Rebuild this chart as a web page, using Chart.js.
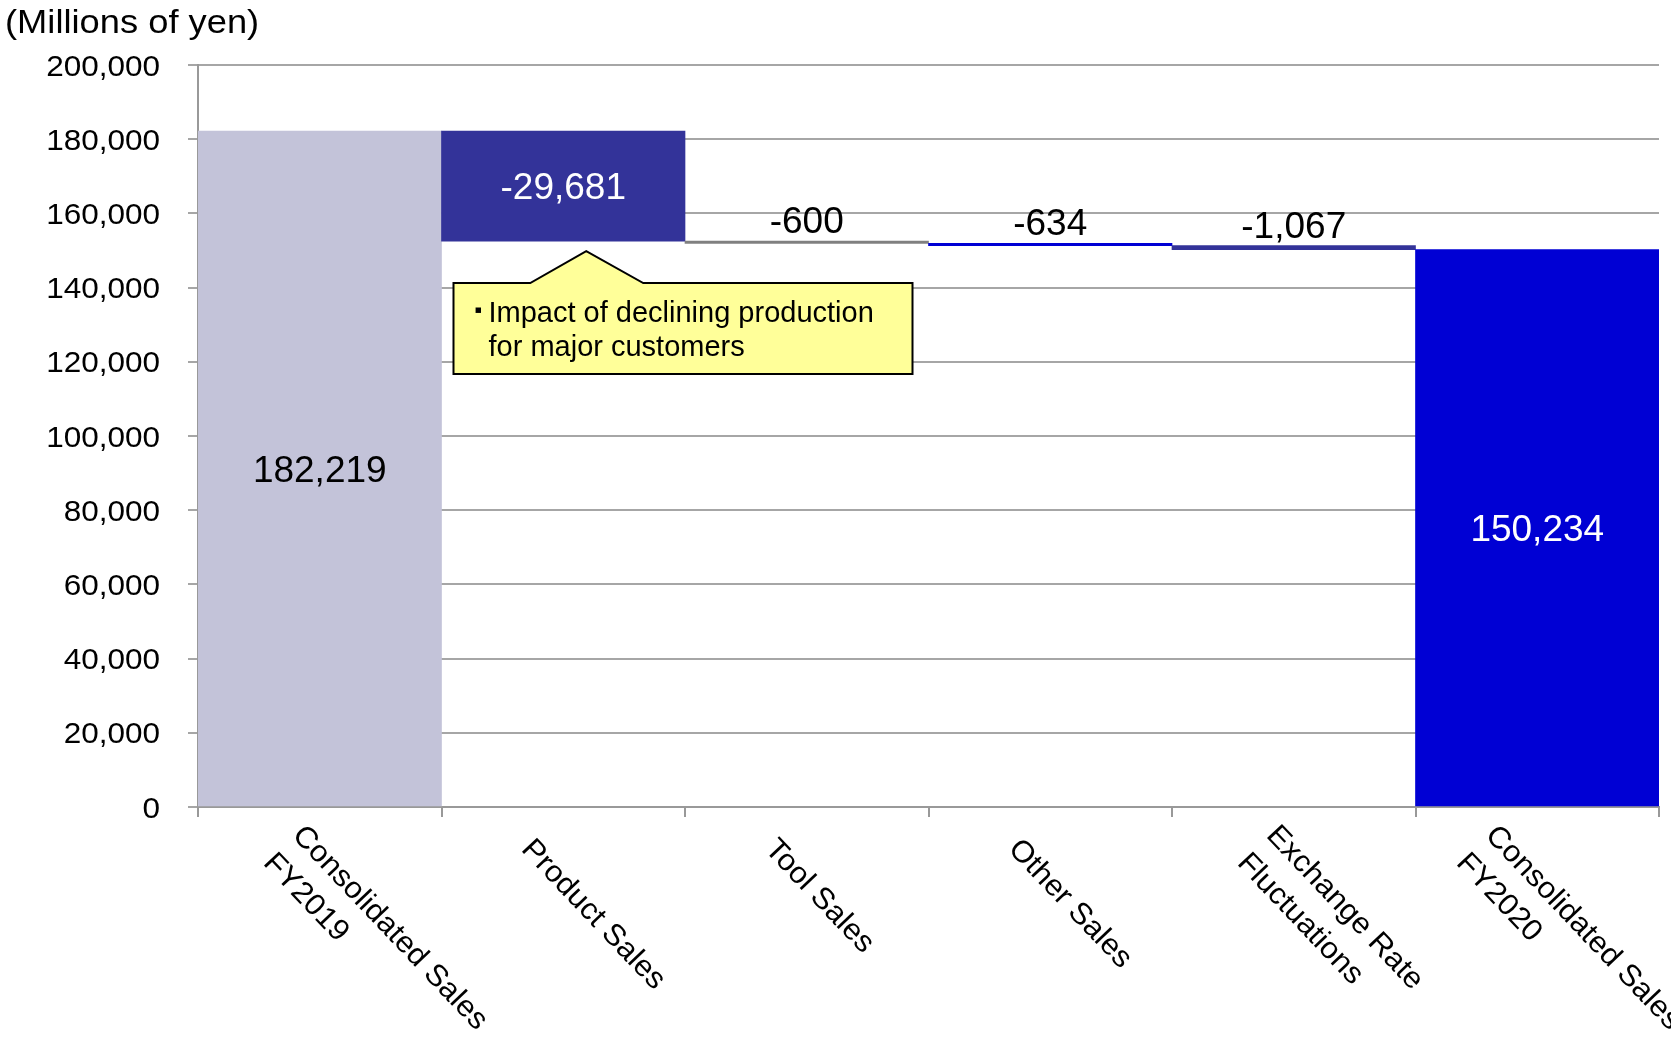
<!DOCTYPE html>
<html>
<head>
<meta charset="utf-8">
<title>Consolidated Sales Bridge</title>
<script src="https://cdn.jsdelivr.net/npm/chart.js@4.4.1/dist/chart.umd.min.js"></script>
<style>
  html, body { margin: 0; padding: 0; background: #ffffff; }
  #wrap { width: 1671px; height: 1038px; position: relative; }
  canvas { display: block; }
</style>
</head>
<body>
<div id="wrap"><canvas id="chart" width="1671" height="1038"></canvas></div>
<script>
// ---- data ----
const categories = [
  ["Consolidated Sales", "FY2019"],
  ["Product Sales"],
  ["Tool Sales"],
  ["Other Sales"],
  ["Exchange Rate", "Fluctuations"],
  ["Consolidated Sales", "FY2020"]
];
const openingSales = 182219;
const salesChanges = [-29681, -600, -634, -1067];
const closingSales = 150234;
const yTickValues = [0, 20000, 40000, 60000, 80000, 100000, 120000, 140000, 160000, 180000, 200000];
const unitLabel = "(Millions of yen)";
const noteLines = ["Impact of declining production", "for major customers"];

// ---- styles ----
const barColors = ["#c3c3d9", "#333399", "#808080", "#0000d4", "#333399", "#0000d4"];
const valueTextColors = ["#000000", "#ffffff", "#000000", "#000000", "#000000", "#ffffff"];
const FONT = '"Liberation Sans", Arial, sans-serif';

// floating ranges for the bridge: each change hangs from the running total
const ranges = [[0, openingSales]];
let runningTotal = openingSales;
salesChanges.forEach(d => {
  ranges.push([runningTotal + d, runningTotal]);
  runningTotal += d;
});
ranges.push([0, closingSales]);
const valueLabels = [openingSales, ...salesChanges, closingSales];

const fmt = v => v.toLocaleString("en-US");

function drawText(ctx, text, x, y, o) {
  ctx.save();
  ctx.translate(x, y);
  if (o.rotate) ctx.rotate(o.rotate);
  ctx.scale(o.sx || 1, 1);
  ctx.font = `${o.size}px ${FONT}`;
  ctx.fillStyle = o.color || "#000000";
  ctx.textAlign = o.align || "left";
  ctx.textBaseline = o.baseline || "alphabetic";
  ctx.fillText(text, 0, 0);
  ctx.restore();
}

const bridgeDecor = {
  id: "bridgeDecor",
  afterDraw(chart) {
    const ctx = chart.ctx;
    const xs = chart.scales.x;
    const ys = chart.scales.y;
    const area = chart.chartArea;
    const bars = chart.getDatasetMeta(0).data;

    // unit caption
    drawText(ctx, unitLabel, 5, 33, { size: 33, sx: 1.1 });

    // value axis labels
    yTickValues.forEach(v => {
      drawText(ctx, fmt(v), 160, ys.getPixelForValue(v) + 10.5, {
        size: 30, sx: 1.05, align: "right"
      });
    });

    // category labels, turned clockwise
    const rad = 46.5 * Math.PI / 180;
    const ux = Math.cos(rad);
    const vx = -Math.sin(rad), vy = Math.cos(rad);
    const catSize = 30, catSx = 1.04, lineH = 40, capH = 0.716 * catSize;
    ctx.save();
    ctx.font = `${catSize}px ${FONT}`;
    categories.forEach((lines, i) => {
      const c = xs.getPixelForValue(i);
      const H = lines.length * lineH;
      const mx = c - 42, my = area.bottom + 42;
      let px = mx - vx * H / 2;
      const py = my - vy * H / 2;
      let right = -Infinity;
      lines.forEach((t, k) => {
        const w = ctx.measureText(t).width * catSx;
        right = Math.max(right, px + vx * k * lineH + ux * w);
      });
      // pull a label back in when it runs well past the right edge
      const overflow = right - (chart.width + 14);
      if (overflow > 0) px -= overflow;
      lines.forEach((t, k) => {
        const bx = px + vx * (k * lineH + capH);
        const by = py + vy * (k * lineH + capH);
        drawText(ctx, t, bx, by, { size: catSize, sx: catSx, rotate: rad });
      });
    });
    ctx.restore();

    // value labels
    const valSize = 37, valCap = 0.716 * valSize;
    bars.forEach((bar, i) => {
      const top = Math.min(bar.y, bar.base);
      const bottom = Math.max(bar.y, bar.base);
      const text = fmt(valueLabels[i]);
      const yBase = (bottom - top > 50)
        ? (top + bottom) / 2 + valCap / 2
        : top - 8;
      drawText(ctx, text, bar.x, yBase, {
        size: valSize, color: valueTextColors[i], align: "center"
      });
    });

    // callout under the product sales bar
    const pb = bars[1];
    const pLeft = pb.x - pb.width / 2;
    const pBottom = Math.max(pb.y, pb.base);
    const apexX = pb.x + 23, apexY = pBottom + 10;
    const boxL = pLeft + 12, boxT = apexY + 32, boxW = 459, boxH = 91;
    ctx.save();
    ctx.beginPath();
    ctx.moveTo(boxL, boxT);
    ctx.lineTo(apexX - 56, boxT);
    ctx.lineTo(apexX, apexY);
    ctx.lineTo(apexX + 57, boxT);
    ctx.lineTo(boxL + boxW, boxT);
    ctx.lineTo(boxL + boxW, boxT + boxH);
    ctx.lineTo(boxL, boxT + boxH);
    ctx.closePath();
    ctx.fillStyle = "#ffff99";
    ctx.fill();
    ctx.lineWidth = 2;
    ctx.strokeStyle = "#000000";
    ctx.stroke();
    ctx.restore();
    drawText(ctx, "\u25AA", boxL + 21, boxT + 34, { size: 22 });
    drawText(ctx, noteLines[0], boxL + 35, boxT + 39, { size: 29 });
    drawText(ctx, noteLines[1], boxL + 35, boxT + 73, { size: 29 });
  }
};

new Chart(document.getElementById("chart"), {
  type: "bar",
  data: {
    labels: categories,
    datasets: [{
      data: ranges,
      backgroundColor: barColors,
      borderWidth: 0,
      barPercentage: 1.0,
      categoryPercentage: 1.0
    }]
  },
  options: {
    responsive: false,
    animation: false,
    devicePixelRatio: 1,
    layout: { padding: { left: 0, right: 12, top: 65, bottom: 0 } },
    plugins: {
      legend: { display: false },
      tooltip: { enabled: false },
      title: { display: false }
    },
    scales: {
      x: {
        type: "category",
        ticks: { display: false },
        grid: {
          display: true,
          drawOnChartArea: false,
          drawTicks: true,
          tickLength: 10,
          offset: true,
          color: "#999999",
          lineWidth: 2
        },
        border: { display: true, color: "#999999", width: 2 },
        afterFit(scale) { scale.height = 231; }
      },
      y: {
        min: 0,
        max: 200000,
        ticks: { display: false, stepSize: 20000 },
        grid: {
          color: "#a6a6a6",
          lineWidth: 2,
          drawTicks: true,
          tickLength: 10
        },
        border: { display: true, color: "#999999", width: 2 },
        afterFit(scale) { scale.width = 198; }
      }
    }
  },
  plugins: [bridgeDecor]
});
</script>
</body>
</html>
